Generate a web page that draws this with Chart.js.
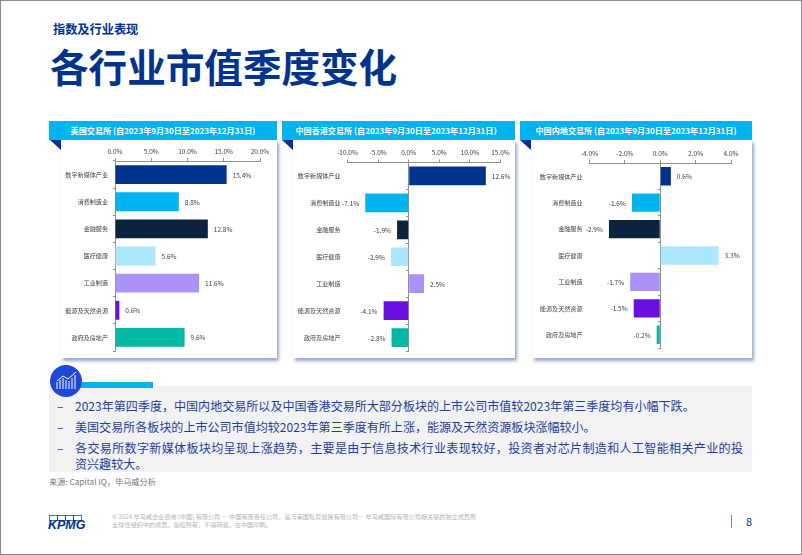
<!DOCTYPE html>
<html lang="zh"><head><meta charset="utf-8">
<script src="https://cdn.jsdelivr.net/npm/chart.js@4"></script>
<style>
html,body{margin:0;padding:0;background:#fff}
body{width:802px;height:555px;position:relative;overflow:hidden;font-family:"Noto Sans CJK SC","Noto Sans",sans-serif}
#frame{position:absolute;left:0;top:0;width:800px;height:553px;border:1px solid #8a8a8a;box-sizing:content-box;pointer-events:none}
.abs{position:absolute;white-space:nowrap}
.card{position:absolute;background:#fff;box-shadow:2px 3px 3px rgba(70,95,160,.55)}
.hdr{position:absolute;height:19px;background:#00b4f0;color:#fff;font-weight:700;font-size:8.1px;line-height:19px;text-align:center;white-space:nowrap}
.fold{position:absolute;width:0;height:0;border-top:10px solid #00338d;border-left:11px solid transparent}
canvas{position:absolute}
.bl{position:absolute;left:75px;font-size:12.05px;line-height:17px;color:#1c3f9e;white-space:nowrap}
.dash{position:absolute;left:57px;font-size:12px;line-height:17px;color:#1c3f9e}
</style></head><body>
<div class="abs" style="left:53px;top:20px;font-size:12.2px;line-height:18px;font-weight:700;color:#00338d">指数及行业表现</div>
<div class="abs" style="left:50px;top:37px;font-size:38.6px;line-height:56px;font-weight:700;color:#00338d">各行业市值季度变化</div>

<div class="card" style="left:61px;top:140px;width:216px;height:218px"></div>
<div class="card" style="left:293px;top:140px;width:222px;height:218px"></div>
<div class="card" style="left:532px;top:140px;width:220px;height:218px"></div>
<div class="hdr" style="left:49px;top:121px;width:228px;" id="h1"></div>
<div class="hdr" style="left:282px;top:121px;width:233px;" id="h2"></div>
<div class="hdr" style="left:520px;top:121px;width:232px;" id="h3"></div>
<div class="fold" style="left:50px;top:140px"></div>
<div class="fold" style="left:282px;top:140px"></div>
<div class="fold" style="left:520px;top:140px"></div>

<canvas id="c1"></canvas><canvas id="c2"></canvas><canvas id="c3"></canvas>

<div class="abs" style="left:49px;top:386px;width:703px;height:86px;background:#f2f2f2"></div>
<div class="abs" style="left:80px;top:382px;width:73px;height:6px;background:#00b4f0"></div>
<svg class="abs" style="left:50px;top:365px" width="34" height="34" viewBox="0 0 34 34">
<circle cx="16" cy="16" r="16" fill="#1e49d8"/>
<g fill="none" stroke="#fff" stroke-width="1"><path d="M7 16 L13 11 L18 14 L26 7"/><path d="M7 24V17M10 24V15M13 24V13M16 24V15M19 24V16M22 24V13M25 24V10"/></g></svg>
<div class="dash" style="top:397px">–</div><div class="bl" style="top:397px">2023年第四季度，中国内地交易所以及中国香港交易所大部分板块的上市公司市值较2023年第三季度均有小幅下跌。</div>
<div class="dash" style="top:418px">–</div><div class="bl" style="top:418px">美国交易所各板块的上市公司市值均较2023年第三季度有所上涨，能源及天然资源板块涨幅较小。</div>
<div class="dash" style="top:439px">–</div><div class="bl" style="top:439px;letter-spacing:.33px">各交易所数字新媒体板块均呈现上涨趋势，主要是由于信息技术行业表现较好，投资者对芯片制造和人工智能相关产业的投</div>
<div class="bl" style="top:455px">资兴趣较大。</div>
<div class="abs" style="left:49px;top:474px;font-size:8.2px;line-height:14px;color:#777">来源: Capital IQ，毕马威分析</div>

<svg class="abs" style="left:49px;top:515px" width="34" height="6" viewBox="0 0 34 6"><g fill="none" stroke="#00338d" stroke-width=".7"><rect x=".5" y=".5" width="8" height="5"/><rect x="8.5" y=".5" width="8" height="5"/><rect x="16.5" y=".5" width="8" height="5"/><rect x="24.5" y=".5" width="8" height="5"/></g></svg>
<div class="abs" style="left:48px;top:519px;font-family:'Liberation Sans';font-size:12.5px;line-height:13px;font-weight:700;font-style:italic;color:#00338d">KPMG</div>
<div class="abs" style="left:112px;top:513px;font-size:6.15px;line-height:8px;color:#b4b4b4">© 2024 毕马威企业咨询 (中国) 有限公司 — 中国有限责任公司，是与美国私营担保有限公司— 毕马威国际有限公司相关联的独立成员所<br>全球性组织中的成员。版权所有，不得转载。在中国印刷。</div>
<div class="abs" style="left:731px;top:515px;width:1px;height:13px;background:#6f86bd"></div>
<div class="abs" style="left:746px;top:513px;font-size:11px;line-height:16px;color:#00338d">8</div>
<div id="frame"></div>

<script>
const categories = ["数字新媒体产业","消费制造业","金融服务","医疗健康","工业制造","能源及天然资源","政府及房地产"];
const usValues = [15.4, 8.8, 12.8, 5.6, 11.6, 0.6, 9.6];
const hkValues = [12.6, -7.1, -1.9, -2.9, 2.5, -4.1, -2.8];
const cnValues = [0.6, -1.6, -2.9, 3.3, -1.7, -1.5, -0.2];
const barColors = ["#00338d","#00b4f0","#0c233f","#ace8fd","#ab92f8","#6a0fe0","#00b8a3"];
const usTitle = "美国交易所 (自2023年9月30日至2023年12月31日)";
const hkTitle = "中国香港交易所 (自2023年9月30日至2023年12月31日）";
const cnTitle = "中国内地交易所 (自2023年9月30日至2023年12月31日)";
const usRange = [0, 20, 5];
const hkRange = [-10, 15, 5];
const cnRange = [-4, 4, 2];

document.getElementById('h1').textContent = usTitle;
document.getElementById('h2').textContent = hkTitle;
document.getElementById('h3').textContent = cnTitle;

const FONT = '"Noto Sans CJK SC","Noto Sans",sans-serif';
const TXT = '#3f3f3f', AX = '#8f8f8f';

const valueLabels = {
  id: 'valueLabels',
  afterDatasetsDraw(chart) {
    const {ctx} = chart;
    const meta = chart.getDatasetMeta(0);
    const vals = chart.data.datasets[0].data;
    ctx.save();
    ctx.font = '6.5px ' + FONT;
    ctx.fillStyle = TXT;
    ctx.textBaseline = 'middle';
    meta.data.forEach((el, i) => {
      const v = vals[i];
      ctx.textAlign = v < 0 ? 'right' : 'left';
      ctx.fillText(v.toFixed(1) + '%', el.x + (v < 0 ? -6 : 6), el.y + 0.5);
    });
    ctx.restore();
  }
};

function build(id, values, range, box, plot) {
  const cv = document.getElementById(id);
  cv.style.left = box.x + 'px';
  cv.style.top = box.y + 'px';
  cv.style.width = box.w + 'px';
  cv.style.height = box.h + 'px';
  cv.width = box.w; cv.height = box.h;
  new Chart(cv, {
    type: 'bar',
    data: { labels: categories, datasets: [{ data: values, backgroundColor: barColors, barPercentage: 0.695, categoryPercentage: 1 }] },
    plugins: [valueLabels],
    options: {
      indexAxis: 'y', responsive: false, animation: false,
      layout: { padding: { right: box.x + box.w - plot.r, bottom: box.y + box.h - plot.b, top: 0, left: 0 } },
      plugins: { legend: { display: false }, tooltip: { enabled: false } },
      scales: {
        x: {
          position: 'top', min: range[0], max: range[1],
          afterFit(s) { s.height = plot.t - box.y; s.paddingLeft = 0; s.paddingRight = 0; },
          ticks: { stepSize: range[2], padding: 3, maxRotation: 0, autoSkip: false, color: TXT, font: { size: 6.5, family: FONT }, callback: v => v.toFixed(1) + '%' },
          grid: { drawOnChartArea: false, tickLength: 3, color: AX },
          border: { color: AX }
        },
        y: {
          afterFit(s) { s.width = plot.l - box.x; s.paddingTop = 0; s.paddingBottom = 0; },
          ticks: { padding: 7, color: TXT, font: { size: 6.1, family: FONT }, autoSkip: false },
          grid: { display: false, drawTicks: false },
          border: { display: false }
        },
        zero: {
          axis: 'y', type: 'category', labels: categories, position: { x: 0 }, offset: true,
          afterFit(s) { s.paddingTop = 0; s.paddingBottom = 0; },
          ticks: { display: false },
          grid: { offset: true, drawOnChartArea: false, tickLength: 2, color: AX },
          border: { color: AX }
        }
      }
    }
  });
}
build('c1', usValues, usRange, {x:50,y:141,w:226,h:216}, {l:115,r:260,t:161,b:351});
build('c2', hkValues, hkRange, {x:283,y:141,w:231,h:216}, {l:347.5,r:500.5,t:162.5,b:351});
build('c3', cnValues, cnRange, {x:521,y:141,w:230,h:216}, {l:589.5,r:731,t:163,b:348});
</script>
</body></html>
